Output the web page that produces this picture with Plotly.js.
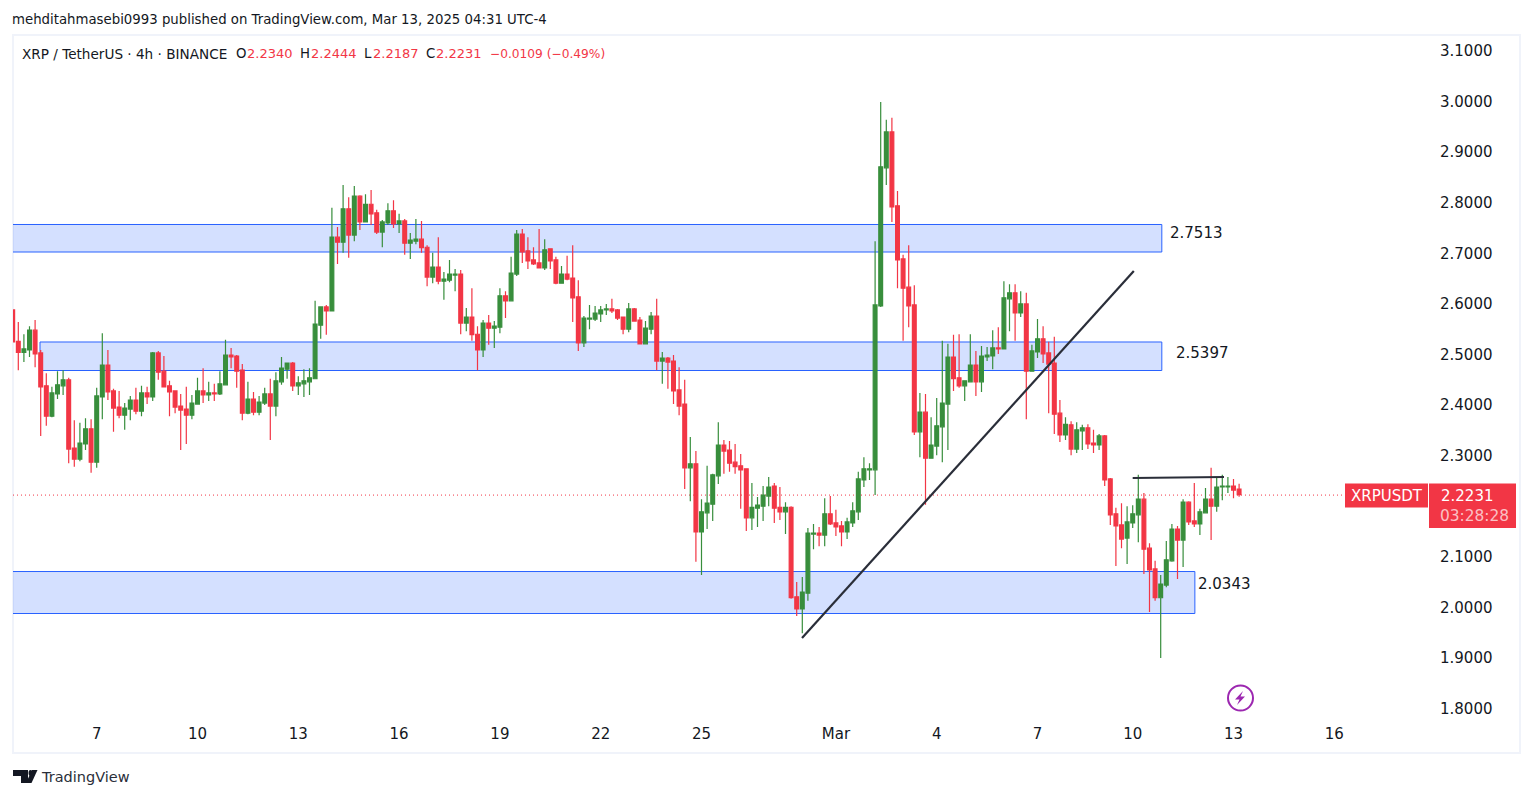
<!DOCTYPE html>
<html>
<head>
<meta charset="utf-8">
<script src="https://cdn.plot.ly/plotly-3.0.1.min.js"></script>
<style>
  html, body { margin: 0; padding: 0; background: #fff; }
  #chart { width: 1533px; height: 798px; }
</style>
</head>
<body>
<div id="chart"></div>
<script>
// velas de 4h (orden cronologico)
const opens = [2.588,2.526,2.504,2.509,2.548,2.503,2.438,2.378,2.422,2.438,2.450,2.315,2.293,2.323,2.353,2.287,2.416,2.479,2.428,2.396,
2.380,2.392,2.410,2.388,2.424,2.416,2.503,2.467,2.438,2.428,2.398,2.392,2.380,2.402,2.428,2.420,2.424,2.422,2.440,2.499,
2.497,2.469,2.384,2.412,2.386,2.404,2.422,2.398,2.446,2.471,2.483,2.438,2.442,2.446,2.452,2.558,2.594,2.586,2.732,2.722,
2.788,2.736,2.813,2.762,2.797,2.780,2.742,2.760,2.784,2.758,2.764,2.720,2.724,2.728,2.712,2.653,2.673,2.645,2.647,2.657,
2.659,2.562,2.574,2.540,2.509,2.562,2.552,2.554,2.616,2.606,2.659,2.738,2.705,2.687,2.681,2.671,2.709,2.687,2.641,2.659,
2.651,2.614,2.523,2.570,2.570,2.580,2.588,2.590,2.588,2.574,2.550,2.590,2.568,2.521,2.550,2.576,2.487,2.493,2.487,2.430,
2.402,2.276,2.284,2.149,2.187,2.204,2.260,2.321,2.311,2.287,2.280,2.274,2.177,2.196,2.200,2.220,2.240,2.198,2.189,2.198,
2.021,1.997,2.028,2.145,2.147,2.143,2.185,2.167,2.161,2.149,2.167,2.189,2.252,2.272,2.272,2.596,2.869,2.940,2.794,2.689,
2.633,2.598,2.347,2.386,2.295,2.319,2.357,2.402,2.495,2.454,2.438,2.446,2.479,2.446,2.495,2.497,2.513,2.511,2.610,2.622,
2.582,2.600,2.467,2.505,2.531,2.503,2.483,2.384,2.341,2.361,2.313,2.349,2.355,2.325,2.321,2.339,2.254,2.185,2.163,2.137,
2.167,2.183,2.214,2.117,2.076,2.019,2.044,2.092,2.155,2.133,2.208,2.171,2.165,2.187,2.214,2.200,2.238,2.238,2.240,2.234];
const highs = [2.588,2.564,2.540,2.556,2.568,2.509,2.463,2.436,2.467,2.469,2.454,2.370,2.365,2.374,2.372,2.434,2.542,2.509,2.432,2.428,
2.404,2.418,2.434,2.438,2.436,2.505,2.507,2.497,2.448,2.428,2.422,2.436,2.420,2.454,2.473,2.446,2.442,2.467,2.529,2.513,
2.499,2.481,2.446,2.426,2.418,2.434,2.452,2.465,2.495,2.483,2.485,2.457,2.471,2.473,2.606,2.594,2.598,2.790,2.752,2.835,
2.811,2.833,2.815,2.817,2.825,2.786,2.766,2.799,2.805,2.778,2.768,2.740,2.768,2.764,2.716,2.701,2.732,2.663,2.687,2.669,
2.667,2.592,2.631,2.556,2.568,2.578,2.566,2.631,2.625,2.693,2.746,2.748,2.732,2.712,2.748,2.728,2.709,2.693,2.675,2.695,
2.716,2.647,2.576,2.598,2.596,2.596,2.600,2.610,2.590,2.574,2.602,2.592,2.574,2.566,2.584,2.610,2.505,2.495,2.499,2.475,
2.450,2.337,2.309,2.214,2.280,2.264,2.366,2.331,2.329,2.323,2.303,2.274,2.246,2.218,2.240,2.258,2.246,2.238,2.208,2.200,
2.050,2.060,2.157,2.165,2.159,2.216,2.220,2.193,2.171,2.177,2.208,2.268,2.297,2.285,2.724,2.999,2.964,2.968,2.823,2.697,
2.716,2.637,2.424,2.422,2.376,2.414,2.527,2.521,2.539,2.540,2.448,2.540,2.507,2.517,2.515,2.548,2.554,2.645,2.639,2.639,
2.625,2.622,2.519,2.570,2.556,2.525,2.535,2.410,2.376,2.368,2.366,2.361,2.362,2.351,2.343,2.341,2.256,2.197,2.206,2.200,
2.202,2.262,2.226,2.127,2.092,2.064,2.131,2.165,2.161,2.214,2.210,2.246,2.195,2.236,2.276,2.256,2.262,2.258,2.254,2.2444];
const lows = [2.525,2.469,2.485,2.495,2.475,2.339,2.359,2.376,2.412,2.420,2.285,2.278,2.289,2.311,2.266,2.276,2.372,2.410,2.347,2.374,
2.351,2.370,2.382,2.378,2.402,2.408,2.450,2.436,2.378,2.384,2.311,2.323,2.372,2.402,2.404,2.408,2.408,2.420,2.440,2.473,
2.434,2.370,2.382,2.380,2.380,2.400,2.331,2.378,2.440,2.452,2.428,2.420,2.416,2.420,2.452,2.531,2.539,2.586,2.679,2.701,
2.691,2.724,2.746,2.762,2.756,2.738,2.712,2.756,2.750,2.740,2.697,2.689,2.718,2.701,2.635,2.641,2.639,2.608,2.643,2.625,
2.540,2.546,2.527,2.469,2.495,2.519,2.513,2.542,2.572,2.606,2.655,2.681,2.669,2.677,2.671,2.667,2.669,2.639,2.641,2.647,
2.564,2.507,2.515,2.550,2.566,2.564,2.578,2.582,2.568,2.540,2.544,2.566,2.521,2.521,2.540,2.469,2.442,2.432,2.402,2.380,
2.234,2.210,2.090,2.064,2.155,2.171,2.244,2.264,2.268,2.264,2.195,2.151,2.153,2.159,2.171,2.200,2.167,2.173,2.145,2.017,
1.983,1.949,2.013,2.115,2.121,2.121,2.163,2.141,2.121,2.135,2.159,2.173,2.238,2.252,2.222,2.594,2.835,2.762,2.631,2.527,
2.554,2.341,2.297,2.203,2.295,2.301,2.287,2.311,2.428,2.434,2.408,2.446,2.418,2.426,2.487,2.471,2.501,2.511,2.546,2.527,
2.574,2.372,2.467,2.493,2.483,2.384,2.343,2.327,2.331,2.301,2.305,2.311,2.313,2.305,2.311,2.240,2.163,2.082,2.117,2.086,
2.157,2.129,2.066,1.991,2.013,1.900,2.040,2.090,2.056,2.080,2.163,2.159,2.143,2.187,2.133,2.189,2.212,2.226,2.216,2.2187];
const closes = [2.525,2.504,2.511,2.548,2.501,2.436,2.378,2.424,2.440,2.450,2.313,2.293,2.325,2.353,2.287,2.418,2.479,2.426,2.394,2.380,
2.394,2.410,2.388,2.424,2.416,2.503,2.465,2.436,2.426,2.396,2.390,2.380,2.404,2.428,2.420,2.424,2.422,2.442,2.499,2.495,
2.467,2.384,2.412,2.386,2.406,2.422,2.398,2.448,2.473,2.483,2.438,2.444,2.448,2.454,2.560,2.594,2.586,2.732,2.722,2.788,
2.736,2.813,2.762,2.797,2.778,2.742,2.762,2.784,2.758,2.764,2.720,2.726,2.728,2.711,2.653,2.673,2.645,2.649,2.659,2.659,
2.562,2.574,2.539,2.509,2.562,2.552,2.556,2.616,2.606,2.661,2.738,2.703,2.685,2.679,2.671,2.707,2.685,2.641,2.659,2.649,
2.612,2.523,2.572,2.572,2.582,2.588,2.590,2.586,2.572,2.550,2.590,2.566,2.521,2.552,2.576,2.487,2.493,2.485,2.428,2.398,
2.276,2.284,2.149,2.189,2.206,2.262,2.321,2.309,2.285,2.278,2.272,2.177,2.198,2.202,2.222,2.238,2.196,2.189,2.198,2.019,
1.997,2.030,2.147,2.147,2.143,2.185,2.165,2.159,2.149,2.169,2.191,2.254,2.274,2.274,2.598,2.871,2.940,2.792,2.687,2.631,
2.596,2.347,2.386,2.295,2.321,2.359,2.404,2.495,2.452,2.438,2.448,2.479,2.446,2.497,2.499,2.513,2.511,2.612,2.622,2.582,
2.600,2.467,2.507,2.531,2.501,2.481,2.382,2.341,2.362,2.313,2.351,2.355,2.323,2.321,2.339,2.252,2.183,2.161,2.135,2.169,
2.185,2.214,2.115,2.074,2.019,2.046,2.094,2.155,2.133,2.208,2.169,2.165,2.189,2.214,2.200,2.238,2.240,2.240,2.232,2.2231];

const priceTicks = [1.8, 1.9, 2.0, 2.1, 2.3, 2.4, 2.5, 2.6, 2.7, 2.8, 2.9, 3.0, 3.1];
const dateTicks = [15, 33, 51, 69, 87, 105, 123, 147, 165, 183, 200, 218, 236];
const dateLabels = ["7", "10", "13", "16", "19", "22", "25", "Mar", "4", "7", "10", "13", "16"];

// zonas azules: [inicio, fin, precio arriba, precio abajo]
const zoneStart = [-5, 4.875, -5];
const zoneEnd = [205.2, 205.2, 211.1];
const zoneTop = [2.757, 2.5247, 2.0709];
const zoneBottom = [2.7026, 2.4683, 1.9879];
const zoneLabels = ["2.7513", "2.5397", "2.0343"];
const zoneLabelIdx = [206.55, 207.6, 211.5];
const zoneLabelPrice = [2.7395, 2.5025, 2.0465];

// lineas dibujadas a mano
const trendX = [140.95, 200.2];
const trendY = [1.9395, 2.665];
const resX = [200, 216.3];
const resY = [2.2558, 2.2578];
const lastPrice = 2.222;

const RED = "#f23645", GREEN = "#388e3c", BLUE = "#2962ff", INK = "#131722";
const FONT = "DejaVu Sans, sans-serif";

// area de trazado en pixeles
const L = 13, R = 1428, T = 35, B = 718;
const px = (x) => (x - L) / (R - L);
const py = (y) => (B - y) / (B - T);
const xRange = [(L - 12.7) / 5.6, (R - 12.7) / 5.6];
const yRange = [3.1 - (B - 51) / 505.8, 3.1 - (T - 51) / 505.8];

const xs = opens.map((_, i) => i);

const trace = {
  type: "candlestick",
  x: xs, open: opens, high: highs, low: lows, close: closes,
  increasing: { line: { color: GREEN, width: 1.2 }, fillcolor: GREEN },
  decreasing: { line: { color: RED, width: 1.2 }, fillcolor: RED },
  whiskerwidth: 0,
  hoverinfo: "skip",
  showlegend: false,
};

const shapes = [];
zoneTop.forEach((top, i) => {
  shapes.push({
    type: "rect", layer: "below", xref: "x", yref: "y",
    x0: zoneStart[i], x1: zoneEnd[i], y0: zoneBottom[i], y1: top,
    fillcolor: "rgba(41,98,255,0.2)", line: { color: BLUE, width: 1 },
  });
});
// linea de ultimo precio
shapes.push({
  type: "line", layer: "below", xref: "x", yref: "y",
  x0: xRange[0], x1: (1345 - 12.7) / 5.6, y0: lastPrice, y1: lastPrice,
  line: { color: RED, width: 1, dash: "1px,3px" },
});
shapes.push({ type: "line", xref: "x", yref: "y", x0: trendX[0], x1: trendX[1], y0: trendY[0], y1: trendY[1], line: { color: "#2a2e39", width: 2.2 } });
shapes.push({ type: "line", xref: "x", yref: "y", x0: resX[0], x1: resX[1], y0: resY[0], y1: resY[1], line: { color: "#2a2e39", width: 2.2 } });

// cosas del marco de TradingView, en pixeles
const paperRect = (x0, y0, x1, y1, extra) => Object.assign({
  type: "rect", xref: "paper", yref: "paper",
  x0: px(x0), x1: px(x1), y0: py(y1), y1: py(y0),
}, extra);
const paperPath = (pts, color) => ({
  type: "path", xref: "paper", yref: "paper",
  path: pts.map((p, i) => (i ? "L" : "M") + px(p[0]) + "," + py(p[1])).join(" ") + " Z",
  fillcolor: color, line: { width: 0 },
});
shapes.push(paperRect(13, 35, 1520, 753, { line: { color: "#f0f3fa", width: 2 }, fillcolor: "rgba(0,0,0,0)", layer: "below" }));
shapes.push(paperRect(1345, 483.5, 1428, 507.5, { fillcolor: RED, line: { width: 0 } }));
shapes.push(paperRect(1429, 483.5, 1516, 528, { fillcolor: RED, line: { width: 0 } }));
// icono del rayo
shapes.push({ type: "circle", xref: "paper", yref: "paper", x0: px(1228), x1: px(1253), y0: py(710.5), y1: py(685.5), line: { color: "#9c27b0", width: 2 }, fillcolor: "#fff" });
shapes.push(paperPath([[1243, 691], [1235, 699.5], [1239.5, 699.5], [1237, 705], [1245, 696.5], [1240.5, 696.5]], "#9c27b0"));
// logo
shapes.push(paperPath([[13, 770], [28, 770], [28, 783], [21, 783], [21, 776], [13, 776]], INK));
shapes.push({ type: "circle", xref: "paper", yref: "paper", x0: px(28.5), x1: px(32.5), y0: py(776), y1: py(770), fillcolor: INK, line: { width: 0 } });
shapes.push(paperPath([[32, 770], [37.5, 770], [31.5, 783], [26, 783]], INK));

const label = (text, x, y, size, color, anchor, extra) => Object.assign({
  text, xref: "paper", yref: "paper", x: px(x), y: py(y),
  xanchor: anchor || "left", yanchor: "middle", showarrow: false,
  font: { family: FONT, size, color }, borderpad: 0, borderwidth: 0,
}, extra);

const annotations = [
  label("mehditahmasebi0993 published on TradingView.com, Mar 13, 2025 04:31 UTC-4", 12, 19, 13.3, INK),
  label("XRP / TetherUS · 4h · BINANCE", 22, 54, 13.6, INK),
  label("O", 236, 54, 13.3, INK),
  label("2.2340", 246.5, 54, 13, RED),
  label("H", 300, 54, 13.3, INK),
  label("2.2444", 310.5, 54, 13, RED),
  label("L", 364, 54, 13.3, INK),
  label("2.2187", 372.5, 54, 13, RED),
  label("C", 426, 54, 13.3, INK),
  label("2.2231", 435.5, 54, 13, RED),
  label("−0.0109 (−0.49%)", 490, 54, 12.2, RED),
  label("XRPUSDT", 1386.5, 495.5, 15, "#fff", "center"),
  label("2.2231", 1467, 496, 15, "#fff", "center"),
  label("03:28:28", 1474, 516, 15.4, "rgba(255,255,255,0.7)", "center"),
  label("TradingView", 41, 776.5, 14.5, "#2a2e39"),
];
zoneLabels.forEach((t, i) => {
  annotations.push({
    text: t, xref: "x", yref: "y", x: zoneLabelIdx[i], y: zoneLabelPrice[i],
    xanchor: "left", yanchor: "middle", showarrow: false, borderwidth: 0,
    font: { family: FONT, size: 15, color: INK },
  });
});

const layout = {
  width: 1533, height: 798,
  margin: { l: L, r: 1533 - R, t: T, b: 798 - B, pad: 0 },
  paper_bgcolor: "#fff", plot_bgcolor: "rgba(0,0,0,0)",
  showlegend: false,
  boxgap: 0.32,
  boxgroupgap: 0,
  xaxis: {
    type: "linear", range: xRange, rangeslider: { visible: false },
    tickmode: "array", tickvals: dateTicks, ticktext: dateLabels,
    ticks: "outside", ticklen: 2, tickcolor: "rgba(0,0,0,0)",
    showgrid: false, zeroline: false, showline: false,
    tickfont: { family: FONT, size: 15, color: INK },
  },
  yaxis: {
    side: "right", range: yRange,
    tickmode: "array", tickvals: priceTicks, ticktext: priceTicks.map((v) => v.toFixed(4)),
    ticks: "outside", ticklen: 8, tickcolor: "rgba(0,0,0,0)",
    showgrid: false, zeroline: false, showline: false,
    tickfont: { family: FONT, size: 15, color: INK },
  },
  shapes, annotations,
};

Plotly.newPlot("chart", [trace], layout, { displayModeBar: false, staticPlot: true });
</script>
</body>
</html>
